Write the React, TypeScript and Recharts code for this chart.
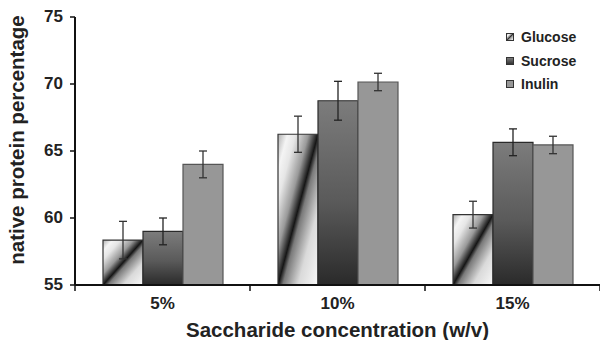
import { BarChart, Bar, XAxis, YAxis, ErrorBar } from 'recharts';

const CATEGORIES = ['5%', '10%', '15%'];
const GLUCOSE = [58.35, 66.25, 60.25];
const SUCROSE = [59.0, 68.75, 65.65];
const INULIN = [64.0, 70.15, 65.45];
const GLUCOSE_ERR = [1.4, 1.35, 1.0];
const SUCROSE_ERR = [1.0, 1.45, 1.0];
const INULIN_ERR = [1.0, 0.65, 0.65];
const Y_TICKS = [55, 60, 65, 70, 75];

const data = CATEGORIES.map((c, i) => ({
  cat: c,
  glucose: GLUCOSE[i],
  sucrose: SUCROSE[i],
  inulin: INULIN[i],
  gErr: GLUCOSE_ERR[i],
  sErr: SUCROSE_ERR[i],
  iErr: INULIN_ERR[i],
}));

const FONT = '"Liberation Sans", Arial, Helvetica, sans-serif';
const W = 600;
const H = 340;
const Y_AXIS_W = 75;
const X_AXIS_H = 55;
const HALF_BAND = (W - Y_AXIS_W) / CATEGORIES.length / 2;

const LEGEND = [
  { label: 'Glucose', bg: 'linear-gradient(135deg, #bbb 0%, #fff 20%, #555 48%, #111 52%, #999 60%, #fff 100%)' },
  { label: 'Sucrose', bg: 'linear-gradient(180deg, #7c7c7c, #333)' },
  { label: 'Inulin', bg: '#979797' },
];

function XTick(props: any) {
  const { x, y, payload, index } = props;
  const isLast = index === CATEGORIES.length - 1;
  return (
    <g>
      <line x1={x - HALF_BAND} x2={x - HALF_BAND} y1={y} y2={y + 6} stroke="#111" strokeWidth={1.5} />
      {isLast && <line x1={x + HALF_BAND} x2={x + HALF_BAND} y1={y} y2={y + 6} stroke="#111" strokeWidth={1.5} />}
      <text x={x} y={y + 24} textAnchor="middle" fill="#222" fontSize={17} fontWeight={700}>
        {payload.value}
      </text>
    </g>
  );
}

function YTick(props: any) {
  const { x, y, payload } = props;
  return (
    <text x={x} y={y + 5} textAnchor="end" fill="#222" fontSize={17} fontWeight={700}>
      {payload.value}
    </text>
  );
}

function YTitle(props: any) {
  const { viewBox } = props;
  const cx = 24;
  const cy = viewBox.y + viewBox.height / 2 - 11;
  return (
    <text
      x={cx}
      y={cy}
      transform={`rotate(-90 ${cx} ${cy})`}
      textAnchor="middle"
      fill="#222"
      fontSize={20.5}
      fontWeight={700}
    >
      native protein percentage
    </text>
  );
}

function LegendBox() {
  return (
    <div style={{ position: 'absolute', left: 506, top: 25 }}>
      {LEGEND.map((l, i) => (
        <div key={l.label} style={{ display: 'flex', alignItems: 'center', height: i === 1 ? 24 : 23.5 }}>
          <span
            style={{
              display: 'inline-block',
              width: 6,
              height: 6,
              border: '1px solid #333',
              background: l.bg,
              marginRight: 7,
            }}
          />
          <span style={{ fontSize: 14, fontWeight: 700, color: '#222', fontFamily: FONT }}>{l.label}</span>
        </div>
      ))}
    </div>
  );
}

export default function App() {
  return (
    <div style={{ position: 'absolute', left: 0, top: 0, width: W, height: H, background: '#fff', fontFamily: FONT }}>
      <BarChart
        width={W}
        height={H}
        data={data}
        margin={{ top: 17, right: 0, left: 0, bottom: 0 }}
        barCategoryGap="16%"
        barGap={0}
      >
        <defs>
          <linearGradient id="gGlu" x1="0" y1="0" x2="1" y2="1">
            <stop offset="0%" stopColor="#b0b0b0" />
            <stop offset="12%" stopColor="#f4f4f4" />
            <stop offset="22%" stopColor="#e6e6e6" />
            <stop offset="38%" stopColor="#9a9a9a" />
            <stop offset="50%" stopColor="#151515" />
            <stop offset="56%" stopColor="#7a7a7a" />
            <stop offset="75%" stopColor="#dadada" />
            <stop offset="100%" stopColor="#f8f8f8" />
          </linearGradient>
          <linearGradient id="gSuc" x1="0" y1="0" x2="0" y2="1">
            <stop offset="0%" stopColor="#7c7c7c" />
            <stop offset="55%" stopColor="#5a5a5a" />
            <stop offset="100%" stopColor="#2a2a2a" />
          </linearGradient>
        </defs>
        <XAxis
          dataKey="cat"
          height={X_AXIS_H}
          axisLine={{ stroke: '#111', strokeWidth: 2 }}
          tickLine={false}
          tickSize={0}
          tickMargin={0}
          tick={<XTick />}
          label={{
            value: 'Saccharide concentration (w/v)',
            position: 'insideBottom',
            offset: 3,
            fill: '#222',
            fontSize: 20.5,
            fontWeight: 700,
          }}
        />
        <YAxis
          width={Y_AXIS_W}
          domain={[55, 75]}
          ticks={Y_TICKS}
          allowDataOverflow
          axisLine={{ stroke: '#111', strokeWidth: 2 }}
          tickLine={{ stroke: '#111', strokeWidth: 1.5 }}
          tickSize={5}
          tickMargin={7}
          tick={<YTick />}
          label={<YTitle />}
        />
        <Bar dataKey="glucose" name="Glucose" fill="url(#gGlu)" stroke="#333" strokeWidth={1.2} isAnimationActive={false}>
          <ErrorBar dataKey="gErr" width={4} stroke="#333" strokeWidth={1.3} />
        </Bar>
        <Bar dataKey="sucrose" name="Sucrose" fill="url(#gSuc)" stroke="#2a2a2a" strokeWidth={1.2} isAnimationActive={false}>
          <ErrorBar dataKey="sErr" width={4} stroke="#222" strokeWidth={1.3} />
        </Bar>
        <Bar dataKey="inulin" name="Inulin" fill="#979797" stroke="#555" strokeWidth={1.2} isAnimationActive={false}>
          <ErrorBar dataKey="iErr" width={4} stroke="#333" strokeWidth={1.3} />
        </Bar>
      </BarChart>
      <LegendBox />
    </div>
  );
}
